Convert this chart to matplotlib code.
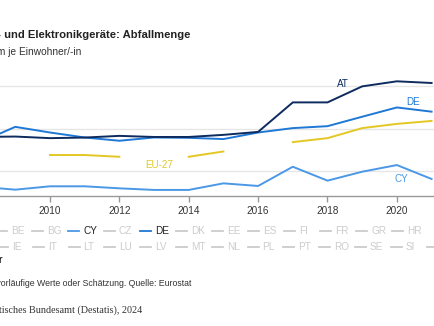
import numpy as np
import matplotlib
matplotlib.use("Agg")
import matplotlib.pyplot as plt
from matplotlib.lines import Line2D

plt.rcParams["font.family"] = ["Liberation Sans", "DejaVu Sans"]

years = [2008, 2009, 2010, 2011, 2012, 2013, 2014, 2015, 2016, 2017, 2018, 2019, 2020, 2021]
at = [9.0, 9.05, 8.86, 8.93, 9.13, 9.0, 9.0, 9.25, 9.6, 13.1, 13.1, 15.0, 15.6, 15.4]
de = [8.4, 10.2, 9.53, 8.94, 8.55, 8.94, 8.9, 8.75, 9.53, 10.05, 10.28, 11.4, 12.5, 12.0]
eu27 = [np.nan, np.nan, 6.86, 6.86, 6.65, np.nan, 6.65, 7.28, np.nan, 8.39, 8.86, 10.05, 10.55, 10.9]
cy = [3.1, 2.75, 3.15, 3.15, 2.91, 2.72, 2.72, 3.5, 3.19, 5.47, 3.82, 4.88, 5.67, 4.02]

legend_row1 = ["BE", "BG", "CY", "CZ", "DE", "DK", "EE", "ES", "FI", "FR", "GR", "HR"]
legend_row2 = ["IE", "IT", "LT", "LU", "LV", "MT", "NL", "PL", "PT", "RO", "SE", "SI", "SK"]

C_AT = "#0d2b5e"
C_DE = "#1f78d6"
C_CY = "#4a98e6"
C_EU = "#e3c823"
INACTIVE = "#cccccc"
active = {"CY": C_CY, "DE": C_DE}

W, H = 434, 326
fig = plt.figure(figsize=(W / 100, H / 100), dpi=100)


def fx(px):
    return px / W


def fy(py):
    return 1 - py / H


# axes placed so that the left part of the chart is cut off like the reference
ax = fig.add_axes([0, fy(196), 1, fy(69.5) - fy(196)])

ax.plot(years, cy, color=C_CY, lw=1.4, zorder=3)
ax.plot(years, eu27, color=C_EU, lw=1.4, zorder=3)
ax.plot(years, de, color=C_DE, lw=1.4, zorder=3)
ax.plot(years, at, color=C_AT, lw=1.4, zorder=3)

ax.text(2018.44, 15.28, "AT", color=C_AT, fontsize=7.1, ha="center", va="center")
ax.text(2020.46, 13.1, "DE", color=C_DE, fontsize=7.1, ha="center", va="center")
ax.text(2013.14, 5.71, "EU-27", color=C_EU, fontsize=7.1, ha="center", va="center")
ax.text(2020.14, 4.05, "CY", color=C_CY, fontsize=7.1, ha="center", va="center")

ax.set_yticks([5, 10, 15])
ax.yaxis.grid(True, color="#e6e6e6", lw=1)
ax.tick_params(axis="y", length=0, labelleft=False)
ax.set_xticks(range(2008, 2022, 2))
ax.tick_params(axis="x", length=4, width=1, color="#999999", labelcolor="#333333",
               labelsize=7.2, pad=3)
ax.set_xlim(2008.56, 2021.07)
ax.set_ylim(2.0, 17)
for s in ["left", "right", "top"]:
    ax.spines[s].set_visible(False)
ax.spines["bottom"].set_color("#999999")
ax.spines["bottom"].set_linewidth(1)
ax.set_axisbelow(True)

# titles (cut at the left edge)
fig.text(fx(190.5), fy(35), "Elektro- und Elektronikgeräte: Abfallmenge", fontsize=8.1,
         fontweight="bold", color="#222222", ha="right", va="center")
fig.text(fx(81), fy(52), "Kilogramm je Einwohner/-in", fontsize=7.3,
         color="#333333", ha="right", va="center")


# legend: items sit on a fixed pitch
def legend_row(names, x0, y, pitch=36.0):
    for i, name in enumerate(names):
        x = x0 + i * pitch
        color = active.get(name, INACTIVE)
        fig.add_artist(Line2D([fx(x - 15), fx(x - 4)], [fy(y), fy(y)], color=color,
                              lw=1.3, transform=fig.transFigure))
        fig.text(fx(x), fy(y), name, fontsize=7.2, va="center", ha="left",
                 color="#222222" if name in active else INACTIVE)


legend_row(legend_row1, 11, 231)
legend_row(legend_row2, 12, 246.5, pitch=35.8)

fig.text(fx(3), fy(260), "Länder", fontsize=7, fontweight="bold",
         color="#222222", ha="right", va="center")
fig.text(fx(191), fy(283), "2021: vorläufige Werte oder Schätzung. Quelle: Eurostat",
         fontsize=6.3, color="#333333", ha="right", va="center")
fig.text(fx(142.3), fy(310.5), "© Statistisches Bundesamt (Destatis), 2024",
         fontsize=7.25, color="#333333", ha="right", va="center",
         family=["Liberation Serif", "DejaVu Serif"])

fig.savefig("out.png", dpi=100)
